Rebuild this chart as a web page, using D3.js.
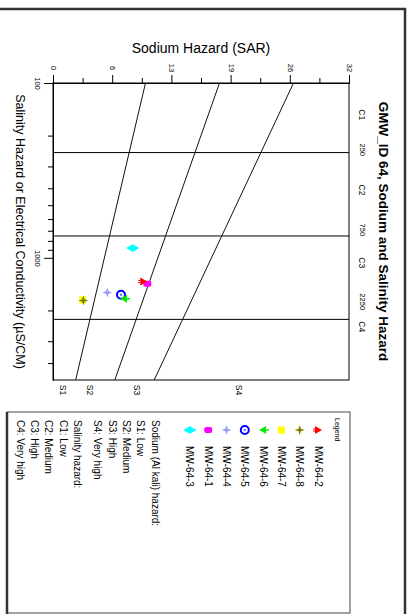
<!DOCTYPE html>
<html><head><meta charset="utf-8">
<script src="https://cdn.jsdelivr.net/npm/d3@7"></script>
<style>body{margin:0;background:#fff} text{font-family:"Liberation Sans",Arial,sans-serif;fill:#000}</style>
</head><body><svg id="c" width="412" height="614"></svg>
<script>
// ---------- data ----------
const title = "GMW_ID 64, Sodium and Salinity Hazard";
const sarAxisTitle = "Sodium Hazard (SAR)";
const ecAxisTitle = "Salinity Hazard or Electrical Conductivity (\u00b5S/CM)";
const sarDomain = [0, 32];
const ecDomain = [100, 5000];
const sarTicks = [0, 6.4, 12.8, 19.2, 25.6, 32];
const sarTickLabels = ["0", "6", "13", "19", "26", "32"];
const sarMinorTicks = [3.2, 9.6, 16, 22.4, 28.8];
const ecMajorTicks = [100, 1000];
const ecTickLabels = ["100", "1000"];
const ecMinorTicks = [200, 300, 400, 500, 600, 700, 800, 900, 2000, 3000, 4000];
const salinityBounds = [250, 750, 2250];
const salinityBoundLabels = ["250", "750", "2250"];
const salinityBoundLabelEC = [241, 692, 1783];
const salinityClasses = ["C1", "C2", "C3", "C4"];
const salinityClassEC = [152, 409, 1067, 2477];
const sodiumLineEC = [100, 5000];
const sodiumLineTopSAR = [10, 18, 26];
const sodiumLineBottomSAR = [2.45, 6.68, 10.94];
const sodiumClasses = ["S1", "S2", "S3", "S4"];
const sodiumClassSAR = [1.05, 4.0, 9.05, 20.1];
const sampleNames = ["MW-64-2", "MW-64-8", "MW-64-7", "MW-64-6", "MW-64-5", "MW-64-4", "MW-64-1", "MW-64-3"];
const sampleSAR = [9.76, 3.28, 3.2, 7.68, 7.35, 5.87, 10.2, 8.62];
const sampleEC = [1366, 1754, 1740, 1714, 1627, 1578, 1408, 880];
const sampleColors = ["#ff0000", "#808000", "#ffff00", "#00ee00", "#0000ff", "#9999ff", "#ff00ff", "#00ffff"];
const sampleShapes = ["triR", "star", "square", "triL", "ring", "star", "pill", "diamond"];
const legendNotes = [["Sodium (Al kali) hazard:", "S1: Low", "S2: Medium", "S3: High", "S4: Very high"],
                     ["Salinity hazard:", "C1: Low", "C2: Medium", "C3: High", "C4: Very high"]];

// ---------- drawing ----------
const svg = d3.select("#c");
const L = 53, R = 349, T = 83, B = 380;
const x = d3.scaleLinear().domain(sarDomain).range([L, R]);
const y = d3.scaleLog().domain(ecDomain).range([T, B]);

// outer frame
svg.append("rect").attr("x", -10).attr("y", 9).attr("width", 415).attr("height", 620)
  .attr("fill", "none").attr("stroke", "#333").attr("stroke-width", 2.5);

// plot frame
svg.append("rect").attr("x", L).attr("y", T).attr("width", R - L).attr("height", B - T)
  .attr("fill", "#fff").attr("stroke", "#000").attr("stroke-width", 1);

// axes
const gx = svg.append("g").attr("transform", `translate(0,${T})`)
  .call(d3.axisTop(x).tickValues(sarTicks).tickSize(8).tickSizeOuter(0).tickFormat((d, i) => sarTickLabels[i]));
gx.selectAll("text").attr("transform", "rotate(90)").attr("x", -15).attr("y", 0)
  .attr("text-anchor", "middle").attr("dominant-baseline", "central").style("font-size", "7.5px")
  .style("font-family", "'Liberation Sans',Arial,sans-serif");
svg.append("g").attr("transform", `translate(0,${T})`)
  .call(d3.axisTop(x).tickValues(sarMinorTicks).tickSize(5).tickSizeOuter(0).tickFormat(""));

const gy = svg.append("g").attr("transform", `translate(${L},0)`)
  .call(d3.axisLeft(y).tickValues(ecMajorTicks).tickSize(9).tickSizeOuter(0).tickFormat((d, i) => ecTickLabels[i]));
gy.selectAll("text").attr("transform", "rotate(90)").attr("x", 0).attr("y", 13)
  .attr("text-anchor", "middle").attr("dominant-baseline", "central").style("font-size", "7.5px")
  .style("font-family", "'Liberation Sans',Arial,sans-serif");
svg.append("g").attr("transform", `translate(${L},0)`)
  .call(d3.axisLeft(y).tickValues(ecMinorTicks).tickSize(5).tickSizeOuter(0).tickFormat(""));
svg.selectAll(".domain").attr("stroke", "#000");
svg.selectAll(".tick line").attr("stroke", "#000");

// salinity class lines
svg.append("g").selectAll("line").data(salinityBounds).join("line")
  .attr("x1", L).attr("x2", R).attr("y1", d => y(d)).attr("y2", d => y(d))
  .attr("stroke", "#000").attr("stroke-width", 1);

// sodium hazard lines
svg.append("g").selectAll("line").data(sodiumLineTopSAR).join("line")
  .attr("x1", d => x(d)).attr("y1", y(sodiumLineEC[0]))
  .attr("x2", (d, i) => x(sodiumLineBottomSAR[i])).attr("y2", y(sodiumLineEC[1]))
  .attr("stroke", "#111").attr("stroke-width", 1);

// right-side salinity labels
const rt = (sel) => sel.attr("text-anchor", "middle").attr("dominant-baseline", "central");
svg.append("g").selectAll("text").data(salinityClasses).join("text")
  .attr("transform", (d, i) => `translate(362,${y(salinityClassEC[i])}) rotate(90)`)
  .style("font-size", "8.5px").text(d => d).call(rt);
svg.append("g").selectAll("text").data(salinityBoundLabels).join("text")
  .attr("transform", (d, i) => `translate(362,${y(salinityBoundLabelEC[i])}) rotate(90)`)
  .style("font-size", "7.5px").text(d => d).call(rt);

// bottom sodium labels
svg.append("g").selectAll("text").data(sodiumClasses).join("text")
  .attr("transform", (d, i) => `translate(${x(sodiumClassSAR[i])},390) rotate(90)`)
  .style("font-size", "8.5px").text(d => d).call(rt);

// titles
svg.append("text").attr("transform", `translate(383,${(T + B) / 2}) rotate(90)`)
  .style("font-size", "13.5px").style("font-weight", "bold").text(title).call(rt);
svg.append("text").attr("x", (L + R) / 2).attr("y", 48).attr("text-anchor", "middle")
  .attr("dominant-baseline", "central").style("font-size", "14px").text(sarAxisTitle);
svg.append("text").attr("transform", `translate(20,${(T + B) / 2}) rotate(90)`)
  .style("font-size", "12.5px").text(ecAxisTitle).call(rt);

// markers
function marker(g, shape, color) {
  if (shape === "triR") {
    g.append("path").attr("d", "M4,0 L-3,-4 L-3,4 Z").attr("fill", color);
    g.append("path").attr("d", "M-3,-1 H-5 M-3,1 H-5").attr("stroke", color).attr("stroke-width", 1);
  } else if (shape === "triL") {
    g.append("path").attr("d", "M-4,0 L3,-4 L3,4 Z").attr("fill", color);
    g.append("path").attr("d", "M3,0 H6").attr("stroke", color).attr("stroke-width", 1.5);
  } else if (shape === "star") {
    g.append("path").attr("d", "M0,-5 L1.2,-1.2 L5,0 L1.2,1.2 L0,5 L-1.2,1.2 L-5,0 L-1.2,-1.2 Z").attr("fill", color);
  } else if (shape === "square") {
    g.append("rect").attr("x", -3.5).attr("y", -3.5).attr("width", 7).attr("height", 7).attr("fill", color);
  } else if (shape === "ring") {
    g.append("circle").attr("r", 4).attr("fill", "#fff").attr("stroke", color).attr("stroke-width", 2);
    g.append("circle").attr("r", 1.2).attr("fill", "#6f6fff");
  } else if (shape === "pill") {
    g.append("rect").attr("x", -4).attr("y", -3).attr("width", 8).attr("height", 6).attr("rx", 2).attr("fill", color);
  } else if (shape === "diamond") {
    g.append("path").attr("d", d3.symbol(d3.symbolDiamond, 50)()).attr("transform", "rotate(90)").attr("fill", color);
  }
}
// plot points (draw from last to first so that the first series lie on top)
const order = d3.range(sampleNames.length).reverse();
order.forEach(i => {
  const g = svg.append("g").attr("transform", `translate(${x(sampleSAR[i])},${y(sampleEC[i])})`);
  marker(g, sampleShapes[i], sampleColors[i]);
});

// legend box
svg.append("rect").attr("x", 7).attr("y", 412).attr("width", 343).attr("height", 201)
  .attr("fill", "#fff").attr("stroke", "#666").attr("stroke-width", 1.2);
svg.append("line").attr("x1", 7).attr("x2", 7).attr("y1", 412).attr("y2", 614)
  .attr("stroke", "#333").attr("stroke-width", 2.5);
svg.append("text").attr("transform", "translate(337,418) rotate(90)")
  .attr("dominant-baseline", "central").style("font-size", "7px").text("Legend");
sampleNames.forEach((n, i) => {
  const cx = 318 - i * 18.3;
  const g = svg.append("g").attr("transform", `translate(${cx},430)`);
  marker(g, sampleShapes[i], sampleColors[i]);
  svg.append("text").attr("transform", `translate(${cx},446) rotate(90)`)
    .attr("dominant-baseline", "central").style("font-size", "10px").text(n);
});
legendNotes.forEach((grp, gi) => {
  grp.forEach((t, k) => {
    const cx = 155 - (gi * grp.length + k) * 14.3 - gi * 6;
    svg.append("text").attr("transform", `translate(${cx},420) rotate(90)`)
      .attr("dominant-baseline", "central").style("font-size", "10px").text(t);
  });
});
</script></body></html>
